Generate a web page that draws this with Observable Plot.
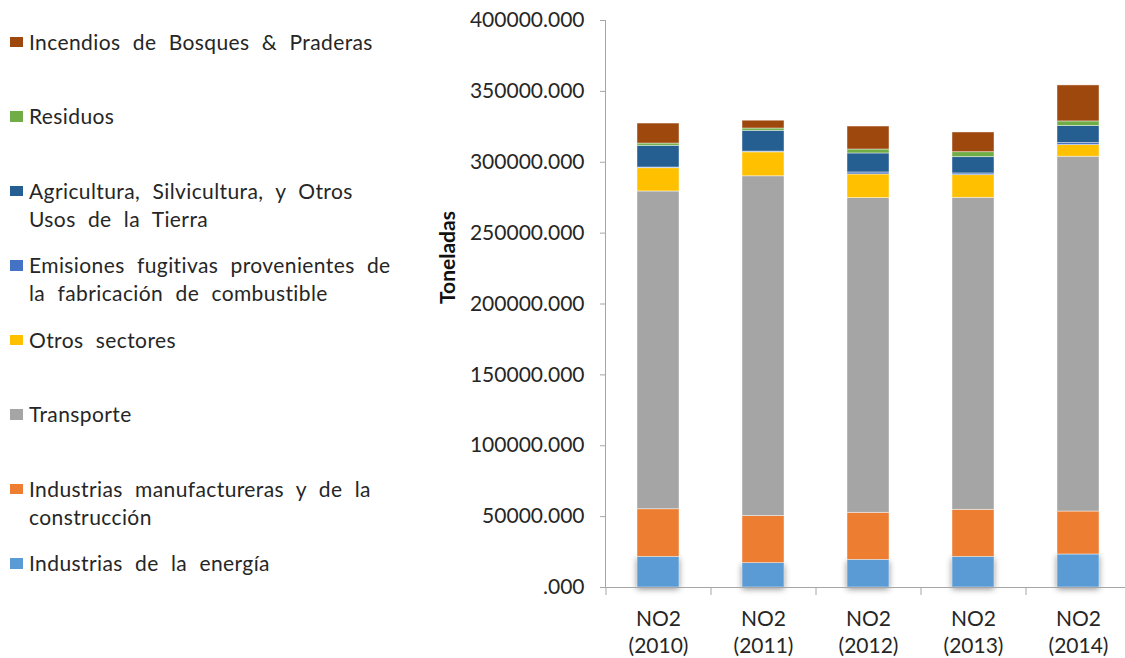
<!DOCTYPE html>
<html>
<head>
<meta charset="utf-8">
<script src="https://cdn.jsdelivr.net/npm/d3@7"></script>
<script src="https://cdn.jsdelivr.net/npm/@observablehq/plot@0.6"></script>
<style>
  html, body { margin: 0; padding: 0; background: #fff; }
  #wrap { position: relative; width: 1125px; height: 658px; overflow: hidden; }
  #chart { position: absolute; left: 0; top: 0; }
  #legend { position: absolute; left: 0; top: 27.7px; width: 420px; font-family: Lato, "Open Sans", sans-serif; font-size: 21px; color: #262626; word-spacing: 6.5px; letter-spacing: 0.4px; }
  .item { position: relative; height: 74.5px; }
  .sw { position: absolute; left: 10px; top: 9px; width: 12.5px; height: 10.5px; }
  .txt { position: absolute; left: 29px; top: 0; line-height: 28px; white-space: pre; }
</style>
</head>
<body>
<div id="wrap">
  <div id="chart"></div>
  <div id="legend"></div>
</div>
<script>
// ---- data ----
const years = ["2010", "2011", "2012", "2013", "2014"];
const seriesNames = [
  "Industrias de la energía",
  "Industrias manufactureras y de la\nconstrucción",
  "Transporte",
  "Otros sectores",
  "Emisiones fugitivas provenientes de\nla fabricación de combustible",
  "Agricultura, Silvicultura, y Otros\nUsos de la Tierra",
  "Residuos",
  "Incendios de Bosques & Praderas"
];
const seriesColors = ["#5B9BD5", "#ED7D31", "#A5A5A5", "#FFC000", "#4472C4", "#255E91", "#70AD47", "#9E480E"];
const energia     = [21600, 17200, 19500, 21600, 23300];
const manufactura = [33600, 33200, 33200, 33200, 30300];
const transporte  = [224200, 239700, 222000, 220100, 250300];
const otros       = [16400, 16900, 16700, 16000, 8200];
const fugitivas   = [500, 500, 1400, 1200, 1400];
const agricultura = [15300, 14700, 13400, 11500, 12000];
const residuos    = [1600, 1600, 2800, 3500, 3300];
const incendios   = [14100, 5500, 16200, 13900, 25400];
const yTicks = [0, 50000, 100000, 150000, 200000, 250000, 300000, 350000, 400000];
const yTitle = "Toneladas";
const xPrefix = "NO2";

const seriesValues = [energia, manufactura, transporte, otros, fugitivas, agricultura, residuos, incendios];
const label = s => s.replace("\n", " ");
const rows = [];
seriesNames.forEach((s, i) => years.forEach((y, j) => rows.push({year: y, series: label(s), value: seriesValues[i][j]})));

const W = 1125, H = 658, mL = 605, mR = -5, mT = 20, mB = 71;
const step = (W - mL - mR) / years.length;
const axisColor = "#a6a6a6";

const plot = Plot.plot({
  width: W, height: H,
  marginLeft: mL, marginRight: mR, marginTop: mT, marginBottom: mB,
  style: {fontFamily: "Lato, 'Open Sans', sans-serif", fontSize: "21px", color: "#262626", background: "transparent"},
  x: {domain: years, paddingInner: 0.6, paddingOuter: 0.3, label: null},
  y: {domain: [0, 400000], label: null},
  color: {domain: seriesNames.map(label), range: seriesColors},
  marks: [
    Plot.barY(rows.filter(d => d.series === label(seriesNames[0])), {x: "year", y: "value", fill: seriesColors[0]}),
    Plot.barY(rows, {x: "year", y: "value", fill: "series", order: seriesNames.map(label), stroke: "white", strokeWidth: 0.8, strokeOpacity: 0.55}),
    Plot.frame({anchor: "left", stroke: axisColor}),
    Plot.ruleY([0], {stroke: axisColor}),
    Plot.axisY({ticks: yTicks, tickSize: 5, tickPadding: 16, stroke: axisColor, tickFormat: d => d === 0 ? ".000" : d.toFixed(3), label: null, fill: "#262626"}),
    Plot.axisX({tickSize: 8, text: null, dx: -step / 2, stroke: axisColor, label: null}),
    Plot.axisX({tickSize: 0, tickPadding: 19, lineHeight: 1.3, tickFormat: d => `${xPrefix}\n(${d})`, label: null, fill: "#262626"}),
    Plot.text([yTitle], {frameAnchor: "left", rotate: -90, dx: -157, fontWeight: "bold", fontSize: 21, fill: "#111"})
  ]
});
document.getElementById("chart").appendChild(plot);
// soft shadow under the bottom segments
const bars = plot.querySelectorAll("g[aria-label='bar']");
if (bars[0]) bars[0].setAttribute("style", "filter: drop-shadow(0px 2px 3px rgba(0,0,0,0.45))");

// ---- legend (top to bottom: last series first) ----
const legend = document.getElementById("legend");
seriesNames.map((s, i) => ({s, c: seriesColors[i]})).reverse().forEach(({s, c}) => {
  const it = document.createElement("div"); it.className = "item";
  const sw = document.createElement("div"); sw.className = "sw"; sw.style.background = c;
  const tx = document.createElement("div"); tx.className = "txt"; tx.textContent = s;
  it.appendChild(sw); it.appendChild(tx); legend.appendChild(it);
});
</script>
</body>
</html>
